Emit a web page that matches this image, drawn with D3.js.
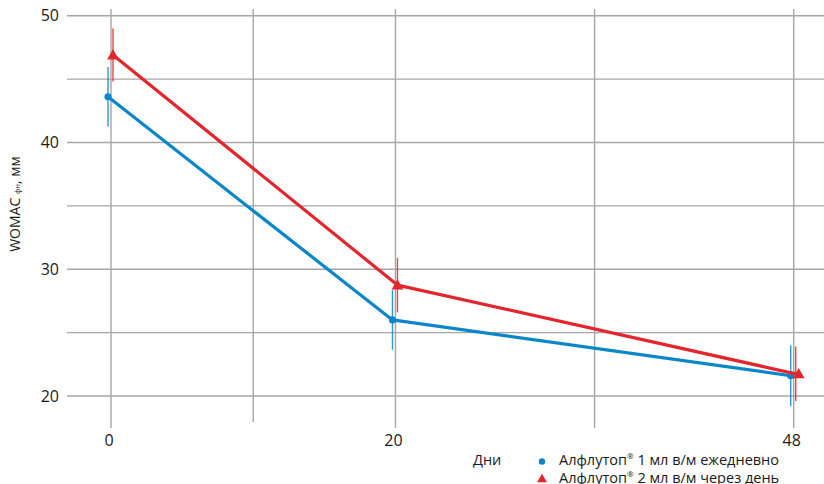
<!DOCTYPE html>
<html><head><meta charset="utf-8">
<script src="https://cdn.jsdelivr.net/npm/d3@7"></script>
<style>body{margin:0;background:#fff}svg{display:block}text{font-family:"Open Sans","Noto Sans",sans-serif}</style>
</head><body><svg id="c" width="824" height="484"></svg>
<script>
const days = [0, 20, 48];
const xTickLabels = [0, 20, 48];
const xGrid = [0, 10, 20, 34, 48];
const yTicks = [20, 30, 40, 50];
const yGrid = [20, 25, 30, 35, 40, 45, 50];
const seriesNames = ["Алфлутоп", "Алфлутоп"];
const seriesRest = [" 1 мл в/м ежедневно", " 2 мл в/м через день"];
const blueValues = [43.6, 26.0, 21.6];
const blueErr = [2.35, 2.35, 2.4];
const redValues = [46.9, 28.75, 21.75];
const redErr = [2.1, 2.15, 2.15];

const svg = d3.select("#c");
const x = d3.scaleLinear().domain([0, 48]).range([111, 793.7]);
const y = d3.scaleLinear().domain([20, 50]).range([396, 15.7]);
const gridColor = "#a6a6a6";
const blue = "#0a86c9", red = "#e3262e";

svg.append("g").selectAll("line").data(yGrid).join("line")
  .attr("x1", 67).attr("x2", 824)
  .attr("y1", d => y(d)).attr("y2", d => y(d))
  .attr("stroke", gridColor).attr("stroke-width", 1.4);
svg.append("g").selectAll("line").data(xGrid).join("line")
  .attr("x1", d => x(d)).attr("x2", d => x(d))
  .attr("y1", 9).attr("y2", d => (d === 10 ? 422 : 428))
  .attr("stroke", gridColor).attr("stroke-width", 1.4);

svg.append("g").selectAll("text").data(yTicks).join("text")
  .attr("x", 59).attr("y", d => y(d)).attr("dy", "0.36em")
  .attr("text-anchor", "end").attr("font-size", 16).attr("fill", "#1a1a1a")
  .text(d => d);
svg.append("g").selectAll("text").data(xTickLabels).join("text")
  .attr("x", d => x(d) - 2).attr("y", 446)
  .attr("text-anchor", "middle").attr("font-size", 16).attr("fill", "#1a1a1a")
  .text(d => d);

const yt = svg.append("text").attr("transform", "translate(20,204) rotate(-90)")
  .attr("text-anchor", "middle").attr("font-size", 14).attr("fill", "#1a1a1a");
yt.append("tspan").text("WOMAC ");
yt.append("tspan").attr("font-size", 7.5).text("фн");
yt.append("tspan").text(", мм");

function drawSeries(vals, errs, color, dx, shape) {
  const g = svg.append("g");
  g.selectAll("line.err").data(days).join("line").attr("class", "err")
    .attr("x1", d => x(d) + dx).attr("x2", d => x(d) + dx)
    .attr("y1", (d, i) => y(vals[i] + errs[i])).attr("y2", (d, i) => y(vals[i] - errs[i]))
    .attr("stroke", color).attr("stroke-width", 1.4).attr("opacity", 0.85);
  const line = d3.line().x(d => x(d) + dx).y((d, i) => y(vals[i]));
  g.append("path").datum(days).attr("d", line)
    .attr("fill", "none").attr("stroke", color).attr("stroke-width", 3.2)
    .attr("stroke-linejoin", "round");
  const sym = d3.symbol().type(shape === "circle" ? d3.symbolCircle : d3.symbolTriangle)
    .size(shape === "circle" ? 40 : 60);
  g.selectAll("path.pt").data(days).join("path").attr("class", "pt")
    .attr("transform", (d, i) => `translate(${x(d) + dx + (shape === "circle" ? 0 : (i === 2 ? 3 : 0))},${y(vals[i]) + (shape === "circle" ? 0 : 1)})`)
    .attr("d", sym).attr("fill", color);
}
drawSeries(blueValues, blueErr, blue, -3, "circle");
drawSeries(redValues, redErr, red, 2, "triangle");

svg.append("text").attr("x", 473).attr("y", 465).attr("font-size", 14.5).attr("fill", "#1a1a1a").text("Дни");
const legColors = [blue, red];
const legShapes = [d3.symbolCircle, d3.symbolTriangle];
const lg = svg.append("g");
[0, 1].forEach(i => {
  const yy = 465 + i * 18;
  lg.append("path").attr("transform", `translate(542,${yy - 3.5})`)
    .attr("d", d3.symbol().type(legShapes[i]).size(i === 0 ? 32 : 42)).attr("fill", legColors[i]);
  const t = lg.append("text").attr("x", 559).attr("y", yy).attr("font-size", 14.5).attr("fill", "#1a1a1a");
  t.append("tspan").text(seriesNames[i]);
  t.append("tspan").attr("font-size", 8).attr("dy", -6).text("®");
  t.append("tspan").attr("dy", 6).text(seriesRest[i]);
});
</script></body></html>
